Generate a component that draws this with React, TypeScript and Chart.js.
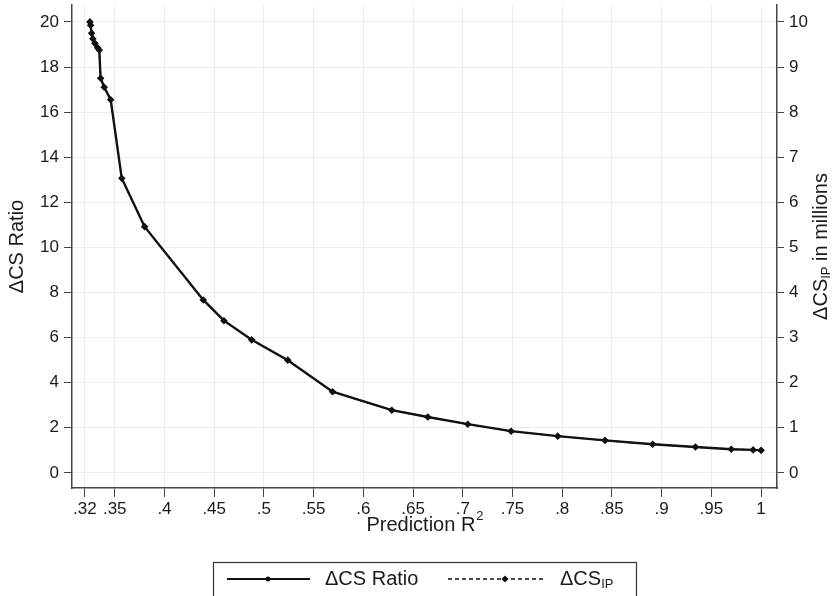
import React, { useEffect, useRef } from "react";
import { Chart, registerables } from "chart.js";

Chart.register(...registerables);

const xValues = [0.325, 0.3257, 0.3267, 0.328, 0.330, 0.3328, 0.3344, 0.3358, 0.3394, 0.3459, 0.357, 0.380, 0.439, 0.4598, 0.4877, 0.524, 0.569, 0.6286, 0.6648, 0.705, 0.7486, 0.7955, 0.843, 0.891, 0.934, 0.970, 0.992, 1.0];
const ratioValues = [20.0, 19.85, 19.5, 19.25, 19.05, 18.85, 18.75, 17.5, 17.1, 16.55, 13.07, 10.92, 7.67, 6.75, 5.9, 5.0, 3.6, 2.78, 2.48, 2.16, 1.85, 1.63, 1.44, 1.27, 1.15, 1.05, 1.02, 1.0];
const ipValues = [10.0, 9.925, 9.75, 9.625, 9.525, 9.425, 9.375, 8.75, 8.55, 8.275, 6.535, 5.46, 3.835, 3.375, 2.95, 2.5, 1.8, 1.39, 1.24, 1.08, 0.925, 0.815, 0.72, 0.635, 0.575, 0.525, 0.51, 0.5];

const xTickValues = [0.32, 0.35, 0.4, 0.45, 0.5, 0.55, 0.6, 0.65, 0.7, 0.75, 0.8, 0.85, 0.9, 0.95, 1];
const xTickLabels = [".32", ".35", ".4", ".45", ".5", ".55", ".6", ".65", ".7", ".75", ".8", ".85", ".9", ".95", "1"];
const yLeftTicks = [0, 2, 4, 6, 8, 10, 12, 14, 16, 18, 20];
const yRightTicks = [0, 1, 2, 3, 4, 5, 6, 7, 8, 9, 10];

const xTitle = "Prediction R";
const xTitleSup = "2";
const leftTitle = "ΔCS Ratio";
const rightTitleMain = "ΔCS";
const rightTitleSub = "IP";
const rightTitleRest = " in millions";
const legendRatio = "ΔCS Ratio";
const legendIpMain = "ΔCS";
const legendIpSub = "IP";

const FONT = "'Liberation Sans', Arial, Helvetica, sans-serif";
const AXIS = "#444";
const GRID = "#ececec";
const LINE = "#111";

const textPlugin = {
  id: "texts",
  afterDraw(chart: any) {
    const ctx = chart.ctx as CanvasRenderingContext2D;
    const area = chart.chartArea;
    const cy = (area.top + area.bottom) / 2;
    const cx = (area.left + area.right) / 2;
    ctx.save();
    ctx.fillStyle = "#1a1a1a";
    ctx.textBaseline = "middle";
    // x title
    ctx.font = `20px ${FONT}`;
    const w1 = ctx.measureText(xTitle).width;
    ctx.font = `13px ${FONT}`;
    const w2 = ctx.measureText(xTitleSup).width;
    const sx = cx - (w1 + w2) / 2;
    ctx.font = `20px ${FONT}`;
    ctx.textAlign = "left";
    ctx.fillText(xTitle, sx, 525);
    ctx.font = `13px ${FONT}`;
    ctx.fillText(xTitleSup, sx + w1 + 1, 516);

    // left title
    ctx.save();
    ctx.translate(17, cy);
    ctx.rotate(-Math.PI / 2);
    ctx.font = `20px ${FONT}`;
    ctx.textAlign = "center";
    ctx.fillText(leftTitle, 0, 0);
    ctx.restore();

    // right title
    ctx.save();
    ctx.translate(821, cy);
    ctx.rotate(-Math.PI / 2);
    ctx.textAlign = "left";
    ctx.font = `20px ${FONT}`;
    const a = ctx.measureText(rightTitleMain).width;
    const c = ctx.measureText(rightTitleRest).width;
    ctx.font = `13px ${FONT}`;
    const b = ctx.measureText(rightTitleSub).width;
    const p = -(a + b + c) / 2;
    ctx.font = `20px ${FONT}`;
    ctx.fillText(rightTitleMain, p, 0);
    ctx.font = `13px ${FONT}`;
    ctx.fillText(rightTitleSub, p + a, 5);
    ctx.font = `20px ${FONT}`;
    ctx.fillText(rightTitleRest, p + a + b, 0);
    ctx.restore();

    // legend box
    ctx.strokeStyle = "#333";
    ctx.lineWidth = 1.2;
    ctx.strokeRect(213.5, 562.5, 423, 50);
    const ly = 579;
    ctx.strokeStyle = LINE;
    ctx.lineWidth = 2;
    ctx.setLineDash([]);
    ctx.beginPath();
    ctx.moveTo(227, ly);
    ctx.lineTo(310, ly);
    ctx.stroke();
    ctx.fillStyle = LINE;
    ctx.beginPath();
    ctx.arc(268, ly, 2.5, 0, Math.PI * 2);
    ctx.fill();
    ctx.fillStyle = "#1a1a1a";
    ctx.font = `20px ${FONT}`;
    ctx.textAlign = "left";
    ctx.fillText(legendRatio, 325, ly);
    ctx.strokeStyle = LINE;
    ctx.lineWidth = 1.5;
    ctx.setLineDash([4, 3]);
    ctx.beginPath();
    ctx.moveTo(448, ly);
    ctx.lineTo(543, ly);
    ctx.stroke();
    ctx.setLineDash([]);
    ctx.fillStyle = LINE;
    ctx.beginPath();
    ctx.moveTo(505, ly - 3.5);
    ctx.lineTo(508.5, ly);
    ctx.lineTo(505, ly + 3.5);
    ctx.lineTo(501.5, ly);
    ctx.closePath();
    ctx.fill();
    ctx.fillStyle = "#1a1a1a";
    ctx.font = `20px ${FONT}`;
    const lw = ctx.measureText(legendIpMain).width;
    ctx.fillText(legendIpMain, 560, ly);
    ctx.font = `13px ${FONT}`;
    ctx.fillText(legendIpSub, 560 + lw, ly + 5);
    ctx.restore();
  },
};

export default function App() {
  const ref = useRef<HTMLCanvasElement>(null);
  useEffect(() => {
    document.body.style.margin = "0";
    const canvas = ref.current!;
    const tickFont = { family: FONT, size: 17 };
    const chart = new Chart(canvas, {
      type: "line",
      data: {
        datasets: [
          {
            label: legendRatio,
            data: xValues.map((x, i) => ({ x, y: ratioValues[i] })),
            yAxisID: "y",
            borderColor: LINE,
            backgroundColor: LINE,
            borderWidth: 2.4,
            pointRadius: 2,
            pointStyle: "circle",
            pointBorderWidth: 0,
            tension: 0,
          },
          {
            label: "ΔCS IP",
            data: xValues.map((x, i) => ({ x, y: ipValues[i] })),
            yAxisID: "y1",
            borderColor: LINE,
            backgroundColor: LINE,
            borderWidth: 1.5,
            borderDash: [4, 3],
            pointRadius: 3.8,
            pointStyle: "rectRot",
            pointBorderWidth: 0,
            tension: 0,
          },
        ],
      },
      options: {
        animation: false,
        responsive: false,
        devicePixelRatio: 1,
        layout: { padding: { top: 5, left: 0, right: 0, bottom: 0 } },
        plugins: { legend: { display: false }, tooltip: { enabled: false } },
        scales: {
          x: {
            type: "linear",
            min: 0.307,
            max: 1.016,
            afterBuildTicks: (s: any) => {
              s.ticks = xTickValues.map((v) => ({ value: v }));
            },
            afterFit: (s: any) => {
              s.height = 108;
              s.paddingLeft = 0;
              s.paddingRight = 0;
            },
            ticks: {
              autoSkip: false,
              maxRotation: 0,
              font: tickFont,
              color: "#1a1a1a",
              padding: 2,
              callback: (v: any) => {
                const i = xTickValues.findIndex((t) => Math.abs(t - v) < 1e-6);
                return i >= 0 ? xTickLabels[i] : "";
              },
            },
            grid: { color: GRID, tickColor: AXIS, tickLength: 9, lineWidth: 1 },
            border: { display: true, color: AXIS, width: 1.5 },
          },
          y: {
            type: "linear",
            position: "left",
            min: -0.67,
            max: 20.75,
            afterBuildTicks: (s: any) => {
              s.ticks = yLeftTicks.map((v) => ({ value: v }));
            },
            afterFit: (s: any) => {
              s.width = 72;
              s.paddingTop = 0;
              s.paddingBottom = 0;
            },
            ticks: { font: tickFont, color: "#1a1a1a", padding: 5 },
            grid: { color: GRID, tickColor: AXIS, tickLength: 8, lineWidth: 1 },
            border: { display: true, color: AXIS, width: 1.5 },
          },
          y1: {
            type: "linear",
            position: "right",
            min: -0.335,
            max: 10.375,
            afterBuildTicks: (s: any) => {
              s.ticks = yRightTicks.map((v) => ({ value: v }));
            },
            afterFit: (s: any) => {
              s.width = 58;
              s.paddingTop = 0;
              s.paddingBottom = 0;
            },
            ticks: { font: tickFont, color: "#1a1a1a", padding: 5 },
            grid: { drawOnChartArea: false, tickColor: AXIS, tickLength: 7 },
            border: { display: true, color: AXIS, width: 1.5 },
          },
        },
      },
      plugins: [textPlugin],
    } as any);
    return () => chart.destroy();
  }, []);
  return (
    <div style={{ width: 835, height: 596, background: "#fff" }}>
      <canvas ref={ref} width={835} height={596} />
    </div>
  );
}
